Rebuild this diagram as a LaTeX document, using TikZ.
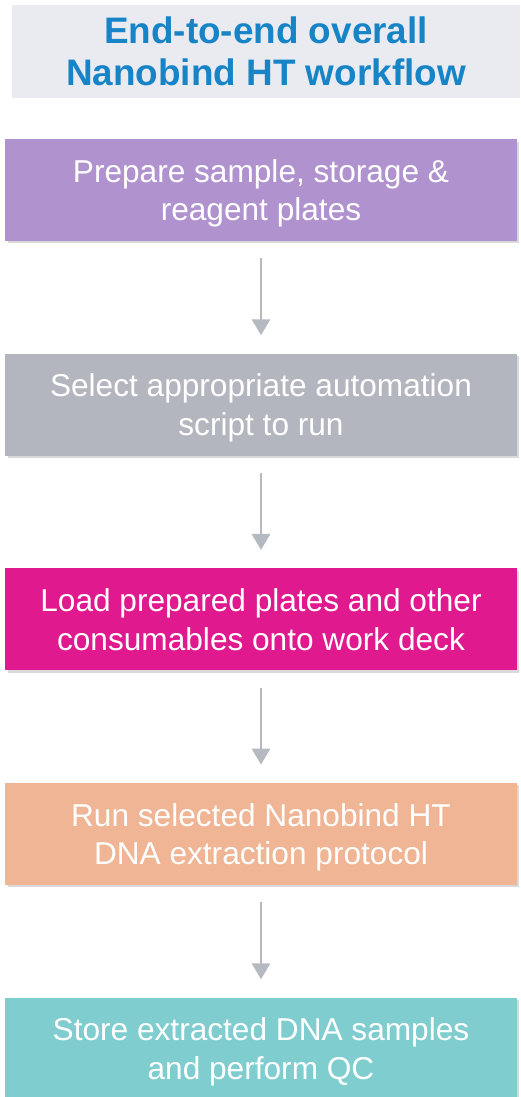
\documentclass[tikz,border=0pt]{standalone}
\usepackage{fontspec}
\setmainfont{Liberation Sans}
\usepackage{tikz}
\usetikzlibrary{positioning}
\usetikzlibrary{arrows.meta}
\usetikzlibrary{shadows}
\usepackage{xcolor}

\definecolor{titlegray}{HTML}{E9EBF0}
\definecolor{titleblue}{HTML}{1784C8}
\definecolor{prepcol}{HTML}{B092CF}
\definecolor{selectcol}{HTML}{B3B6BE}
\definecolor{loadcol}{HTML}{E0198F}
\definecolor{runcol}{HTML}{EFB594}
\definecolor{storecol}{HTML}{80CDD0}
\definecolor{arrowgray}{HTML}{B5B9C2}

\begin{document}
\begin{tikzpicture}[x=0.02cm, y=-0.02cm,
  node distance=2.24cm,
  stepbox/.style={minimum width=10.24cm, minimum height=2.04cm, inner sep=0pt,
    align=center, text=white, font=\fontsize{18}{22}\selectfont,
    text height=35.2pt, text depth=0pt,
    drop shadow={shadow xshift=0.05cm, shadow yshift=-0.05cm, opacity=0.15, fill=black}},
  flowarrow/.style={draw=arrowgray, line width=1.7pt,
    -{Triangle[length=0.32cm, width=0.36cm]},
    shorten <=0.34cm, shorten >=0.36cm}]
  \useasboundingbox (0,0) rectangle (520,1097);
  % title
  \node [fill=titlegray, minimum width=10.16cm, minimum height=1.86cm, align=center,
    text=titleblue, font=\bfseries\fontsize{21}{24}\selectfont] (title) at (266,51.5)
    {End-to-end overall\\Nanobind HT workflow};
  % steps
  \node [stepbox, fill=prepcol] (prep) at (261,190) {Prepare sample, storage \&\\reagent plates};
  \node [stepbox, fill=selectcol, below=of prep] (select) {Select appropriate automation\\script to run};
  \node [stepbox, fill=loadcol, below=of select] (load) {Load prepared plates and other\\consumables onto work deck};
  \node [stepbox, fill=runcol, below=of load] (run) {Run selected Nanobind HT\\DNA extraction protocol};
  \node [stepbox, fill=storecol, below=of run] (store) {Store extracted DNA samples\\and perform QC};
  % arrows
  \draw [flowarrow] (prep) -- (select);
  \draw [flowarrow] (select) -- (load);
  \draw [flowarrow] (load) -- (run);
  \draw [flowarrow] (run) -- (store);
\end{tikzpicture}
\end{document}
